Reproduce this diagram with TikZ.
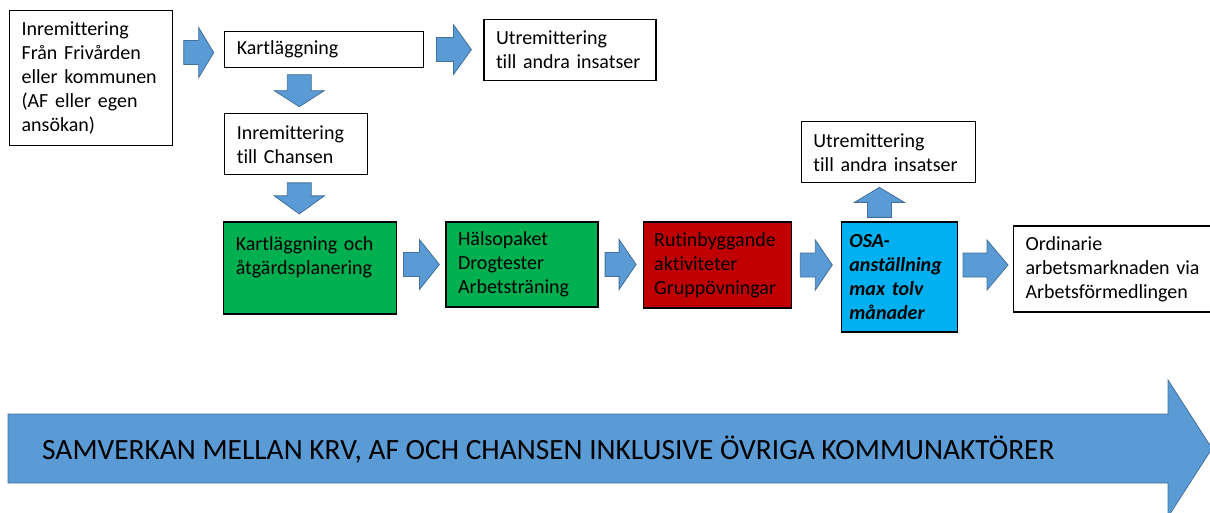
\documentclass[tikz,border=0pt]{standalone}
\usepackage{fontspec}
\setmainfont{Carlito}[Ligatures=NoCommon]
\usepackage{xcolor}
\usetikzlibrary{positioning,calc}

\definecolor{arrowblue}{HTML}{5B9BD5}
\definecolor{arrowedge}{HTML}{41719C}
\definecolor{boxgreen}{HTML}{00B050}
\definecolor{boxred}{HTML}{C00000}
\definecolor{boxcyan}{HTML}{00B0F0}

\tikzset{
    box/.style={rectangle, draw, line width=1.2pt, align=left, inner xsep=12pt, inner ysep=4pt, font=\fontsize{20}{24}\selectfont},
    blockarrow/.style={fill=arrowblue, draw=arrowedge, line width=0.8pt},
    pics/barrow/.style 2 args={code={
        \filldraw[blockarrow] ({-#1/2},-12) -- ({#1/2-#2},-12) -- ({#1/2-#2},-25) -- ({#1/2},0)
            -- ({#1/2-#2},25) -- ({#1/2-#2},12) -- ({-#1/2},12) -- cycle;
    }}
}

\begin{document}
\begin{tikzpicture}[x=1pt, y=1pt, node distance=50pt]
    \useasboundingbox (0,0) rectangle (1210,-513);
    \clip (0,0) rectangle (1210,-513);

    \node (start) [box, anchor=north west, text width=139pt, minimum height=135pt] at (9,-10) {Inremittering\\Från Frivården\\eller kommunen\\(AF eller egen\\ansökan)};
    \node (kart) [box, text width=175pt, minimum height=36pt, below right=21pt and 51pt of start.north east, anchor=north west] {Kartläggning};
    \node (utrA) [box, text width=148pt, minimum height=61pt, above right=12pt and 59pt of kart.north east, anchor=north west] {Utremittering\\till andra insatser};
    \node (inrem) [box, text width=119pt, minimum height=61pt, below=45pt of kart.south west, anchor=north west] {Inremittering\\till Chansen};

    \node (kartplan) [box, fill=boxgreen, text width=149pt, minimum height=92pt, below=46pt of inrem.south west, anchor=north west, xshift=-1pt] {Kartläggning och\\åtgärdsplanering\\\mbox{}};
    \node (halsa) [box, fill=boxgreen, text width=128pt, minimum height=85pt, right=48pt of kartplan.north east, anchor=north west] {Hälsopaket\\Drogtester\\Arbetsträning};
    \node (rutin) [box, fill=boxred, inner xsep=11pt, text width=126pt, minimum height=86pt, right=44pt of halsa.north east, anchor=north west] {Rutinbyggande\\aktiviteter\\Gruppövningar};
    \node (osa) [box, fill=boxcyan, inner xsep=8pt, text width=100pt, minimum height=110pt, right=49pt of rutin.north east, anchor=north west, font=\fontsize{20}{24}\selectfont\bfseries\itshape] {OSA-\\anställning\\max tolv\\månader};
    \node (utrB) [box, text width=150pt, minimum height=61pt, above=38pt of osa.north west, anchor=south west, xshift=-40pt] {Utremittering\\till andra insatser};
    \node (ordin) [box, text width=190pt, minimum height=86pt, below right=4pt and 55pt of osa.north east, anchor=north west] {Ordinarie\\arbetsmarknaden via\\Arbetsförmedlingen};

    % block arrows between the boxes
    \pic at ($(start.east |- kart.west)!0.5!(kart.west)+(0,-3)$) {barrow={30}{15}};
    \pic at ($(kart.east)!0.5!(utrA.west |- kart.east)$) {barrow={35}{18}};
    \pic[rotate=-90] at ($(kart.south -| inrem.north)!0.5!(inrem.north)+(3,0)$) {barrow={32}{16}};
    \pic[rotate=-90] at ($(inrem.south)!0.5!(inrem.south |- kartplan.north)+(3,0)$) {barrow={31}{18}};
    \pic at ($(kartplan.east |- halsa.west)!0.5!(halsa.west)$) {barrow={36}{20}};
    \pic at ($(halsa.east)!0.5!(rutin.west |- halsa.east)$) {barrow={31}{17}};
    \pic at ($(rutin.east)!0.5!(osa.west |- rutin.east)$) {barrow={32}{17}};
    \pic at ($(osa.east |- rutin.east)!0.5!(ordin.west |- rutin.east)$) {barrow={45}{21}};
    \pic[rotate=90] at ($(osa.north)!0.5!(osa.north |- utrB.south)+(-20,0)$) {barrow={30}{15}};

    % cooperation arrow at the bottom
    \filldraw[blockarrow] (8,-414) -- (1168,-414) -- (1168,-380) -- (1212,-448.5) -- (1168,-517) -- (1168,-483) -- (8,-483) -- cycle;
    \node (samverkan) [anchor=base west, inner sep=0pt, font=\fontsize{29.4}{35}\selectfont] at (42,-459) {SAMVERKAN MELLAN KRV, AF OCH CHANSEN INKLUSIVE ÖVRIGA KOMMUNAKTÖRER};
\end{tikzpicture}
\end{document}
